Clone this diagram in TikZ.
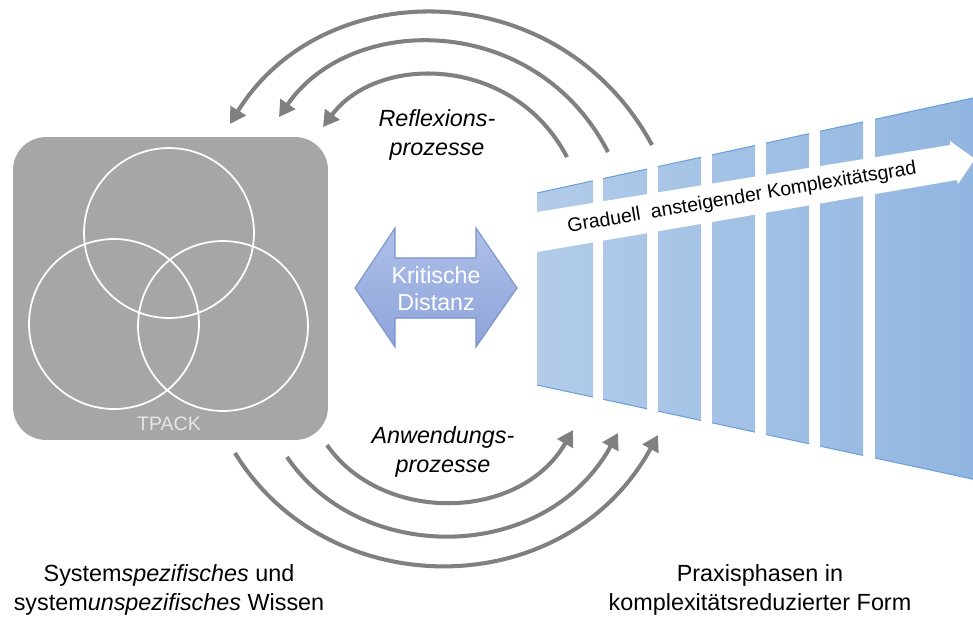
\documentclass[tikz,border=0pt]{standalone}
\usepackage{fontspec}
\setmainfont{Liberation Sans}
\usetikzlibrary{arrows.meta}

\definecolor{boxgray}{RGB}{166,166,166}
\definecolor{tpacktext}{RGB}{230,230,230}
\definecolor{arrowgray}{RGB}{128,128,128}
\definecolor{barlight}{RGB}{178,203,233}
\definecolor{bardark}{RGB}{145,182,225}
\definecolor{baredge}{RGB}{108,160,216}
\definecolor{distlight}{RGB}{174,192,233}
\definecolor{distdark}{RGB}{142,164,218}
\definecolor{distedge}{RGB}{122,146,204}

\begin{document}
\begin{tikzpicture}[
x=0.02cm, y=-0.02cm,
tpackbox/.style={rectangle, rounded corners=0.66cm, fill=boxgray, minimum width=6.3cm, minimum height=6.06cm},
venn/.style={circle, draw=white, line width=1pt, minimum size=3.4cm},
flow/.style={draw=arrowgray, line width=2.3pt, -{Triangle[length=9pt, width=10pt]}},
textlabel/.style={align=center, font=\fontsize{13.3}{17}\selectfont},
proclabel/.style={align=center, font=\fontsize{13.3}{17}\selectfont\itshape}
]
\useasboundingbox (0,0) rectangle (973,616);

%TPACK
\node[tpackbox]  (tpack)  at (170.5,288.5) {};
\node[venn]      (know1)  at (169,233)     {};
\node[venn]      (know2)  at (114,324)     {};
\node[venn]      (know3)  at (223,326)     {};
\node[text=tpacktext, font=\fontsize{11.1}{13}\selectfont] (tpacklabel) at (169,424) {TPACK};

%Bars
\shade[left color=barlight, right color=bardark]
  \foreach \l/\r in {537/593, 603/647, 658/701, 712/755, 766/809, 820/863, 875/973} {
    (\l,{193-0.218*(\l-537)}) -- (\r,{193-0.218*(\r-537)}) -- (\r,{385+0.216*(\r-537)}) -- (\l,{385+0.216*(\l-537)}) -- cycle
  };
\foreach \l/\r in {537/593, 603/647, 658/701, 712/755, 766/809, 820/863, 875/973} {
  \draw[baredge, line width=0.6pt] (\l,{193-0.218*(\l-537)}) -- (\r,{193-0.218*(\r-537)});
  \draw[baredge, line width=0.6pt] (\l,{385+0.216*(\l-537)}) -- (\r,{385+0.216*(\r-537)});
}
\fill[white] (537,212) -- (950,145) -- (950,141) -- (975,159) -- (958,184) -- (957,180) -- (537,252) -- cycle;
\node[rotate=9.6, font=\fontsize{11.1}{13}\selectfont] (grad) at (742,198) {Graduell\ \ ansteigender Komplexitätsgrad};

%Distance
\shade[top color=distlight, bottom color=distdark, draw=distedge, line width=0.6pt]
  (355,288) -- (395,228) -- (395,258) -- (476,258) -- (476,228) -- (517,288)
  -- (476,347) -- (476,318) -- (395,318) -- (395,347) -- cycle;
\node[text=white, align=center, font=\fontsize{13.2}{15.5}\selectfont] (dist) at (436,289) {Kritische\\Distanz};

%Texts
\node[proclabel] (refl)   at (437,135) {Reflexions-\\prozesse};
\node[proclabel] (anw)    at (443,452) {Anwendungs-\\prozesse};
\node[textlabel] (wissen) at (169,590) {System\textit{spezifisches} und\\system\textit{unspezifisches} Wissen};
\node[textlabel] (praxis) at (760,590) {Praxisphasen in\\komplexitätsreduzierter Form};

%Arcs
\coordinate (r1s) at (652,145); \coordinate (r1e) at (230,124);
\coordinate (r2s) at (608,152); \coordinate (r2e) at (279,117);
\coordinate (r3s) at (567,157); \coordinate (r3e) at (323,127);
\coordinate (a1s) at (327,445); \coordinate (a1e) at (573,430);
\coordinate (a2s) at (287,457); \coordinate (a2e) at (618,433);
\coordinate (a3s) at (235,453); \coordinate (a3e) at (658,435);

\draw[flow] (r1s) .. controls (559,-27) and (323,-27) .. (r1e);
\draw[flow] (r2s) .. controls (536,12) and (351,12) .. (r2e);
\draw[flow] (r3s) .. controls (513,54) and (377,54) .. (r3e);
\draw[flow] (a1s) .. controls (381,523) and (519,523) .. (a1e);
\draw[flow] (a2s) .. controls (360,565) and (545,565) .. (a2e);
\draw[flow] (a3s) .. controls (328,605) and (565,605) .. (a3e);
\end{tikzpicture}
\end{document}
